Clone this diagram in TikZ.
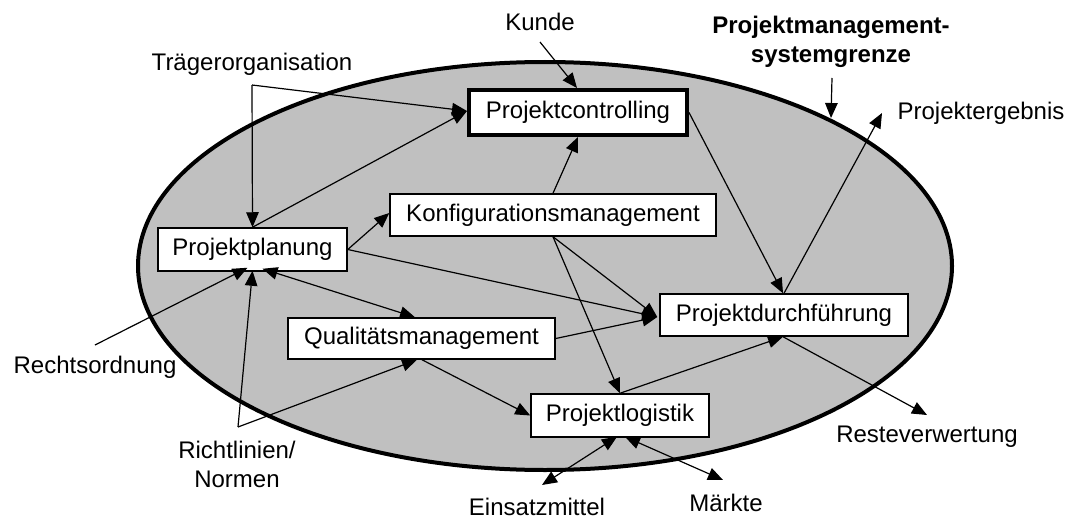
\documentclass[tikz,border=0pt]{standalone}
\usepackage{fontspec}
\setmainfont{Liberation Sans}
\usetikzlibrary{arrows.meta,calc}
\definecolor{sysgray}{RGB}{192,192,192}
\begin{document}
\begin{tikzpicture}[x=1pt,y=-1pt,
  font=\fontsize{24}{29}\selectfont,
  tip/.tip={Triangle[length=15pt,width=12.5pt]},
  conn/.style={line width=1.2pt,-tip},
  both/.style={line width=1.2pt,tip-tip},
  box/.style={draw,fill=white,line width=1.5pt,inner sep=0pt},
  lbl/.style={inner sep=0pt,align=center}]
\useasboundingbox (0,0) rectangle (1068,519);

% system boundary
\draw[line width=4pt,fill=sysgray] (545,266) ellipse [x radius=407pt,y radius=204pt];

% management functions
\node[box,line width=4pt,minimum width=218pt,minimum height=45pt] (ctrl) at (578,112.5) {Projektcontrolling};
\node[box,minimum width=326pt,minimum height=42pt] (konf) at (553,215) {Konfigurationsmanagement};
\node[box,minimum width=189pt,minimum height=43pt] (plan) at (252.5,249.5) {Projektplanung};
\node[box,minimum width=267pt,minimum height=41pt] (qual) at (421.5,338.5) {Qualitätsmanagement};
\node[box,minimum width=248pt,minimum height=42pt] (durch) at (784,315) {Projektdurchführung};
\node[box,minimum width=178pt,minimum height=43pt] (logi) at (620,415.5) {Projektlogistik};

% environment labels
\node[lbl] (kunde) at (540,22) {Kunde};
\node[lbl] (traeger) at (252,64) {Trägerorganisation};
\node[lbl,font=\fontsize{24}{29}\selectfont\bfseries] (grenze) at (831,42) {Projektmanagement-\\systemgrenze};
\node[lbl] (ergebnis) at (981,113) {Projektergebnis};
\node[lbl] (rechts) at (95,367) {Rechtsordnung};
\node[lbl] (richt) at (237,464) {Richtlinien/\\Normen};
\node[lbl] (reste) at (927,437) {Resteverwertung};
\node[lbl] (einsatz) at (537,507) {Einsatzmittel};
\node[lbl] (maerkte) at (726,503) {Märkte};

% free ends of connectors
\coordinate (tj) at (252,85);
\coordinate (kj) at (540,42);
\coordinate (gj) at (832,78);
\coordinate (gb) at (831,118);
\coordinate (ej) at (882,113);
\coordinate (rj) at (95,345);
\coordinate (nj) at (238,427);
\coordinate (rv) at (927,415);
\coordinate (ez) at (542,485);
\coordinate (mk) at (723,480);

% inputs into the system
\draw[conn] (tj) -- (plan.north);
\draw[conn] (tj) -- ([yshift=1.5pt]ctrl.west);
\draw[conn] (kj) -- ([xshift=-1pt]ctrl.north);
\draw[conn] (gj) -- (gb);
\draw[conn] (rj) -- ([xshift=-5pt,yshift=4pt]plan.south);
\draw[conn] (nj) -- ([yshift=1pt]plan.south);
\draw[conn] (nj) -- ([xshift=-4.5pt]qual.south);

% internal relations
\draw[conn] (plan.north) -- ([yshift=1.5pt]ctrl.west);
\draw[conn] (plan.east) -- ([yshift=2pt]konf.west);
\draw[conn] (plan.east) -- ([xshift=-2pt,yshift=-2pt]durch.west);
\draw[both] ([xshift=10pt,yshift=3pt]plan.south) -- ([xshift=-6.5pt]qual.north);
\draw[conn] (konf.north) -- (ctrl.south);
\draw[conn] (konf.south) -- ([xshift=-2pt,yshift=-2pt]durch.west);
\draw[conn] (konf.south) -- (logi.north);
\draw[conn] (qual.east) -- ([xshift=-2pt,yshift=-2pt]durch.west);
\draw[conn] ([xshift=0.5pt]qual.south) -- (logi.west);
\draw[conn] (ctrl.east) -- ([xshift=-1pt]durch.north);
\draw[conn] (logi.north) -- ([xshift=-1pt]durch.south);

% outputs and exchanges
\draw[conn] (durch.north) -- (ej);
\draw[conn] ([xshift=-1pt]durch.south) -- (rv);
\draw[both] ([xshift=-3pt,yshift=1pt]logi.south) -- (ez);
\draw[both] ([xshift=5pt,yshift=1pt]logi.south) -- (mk);
\end{tikzpicture}
\end{document}
